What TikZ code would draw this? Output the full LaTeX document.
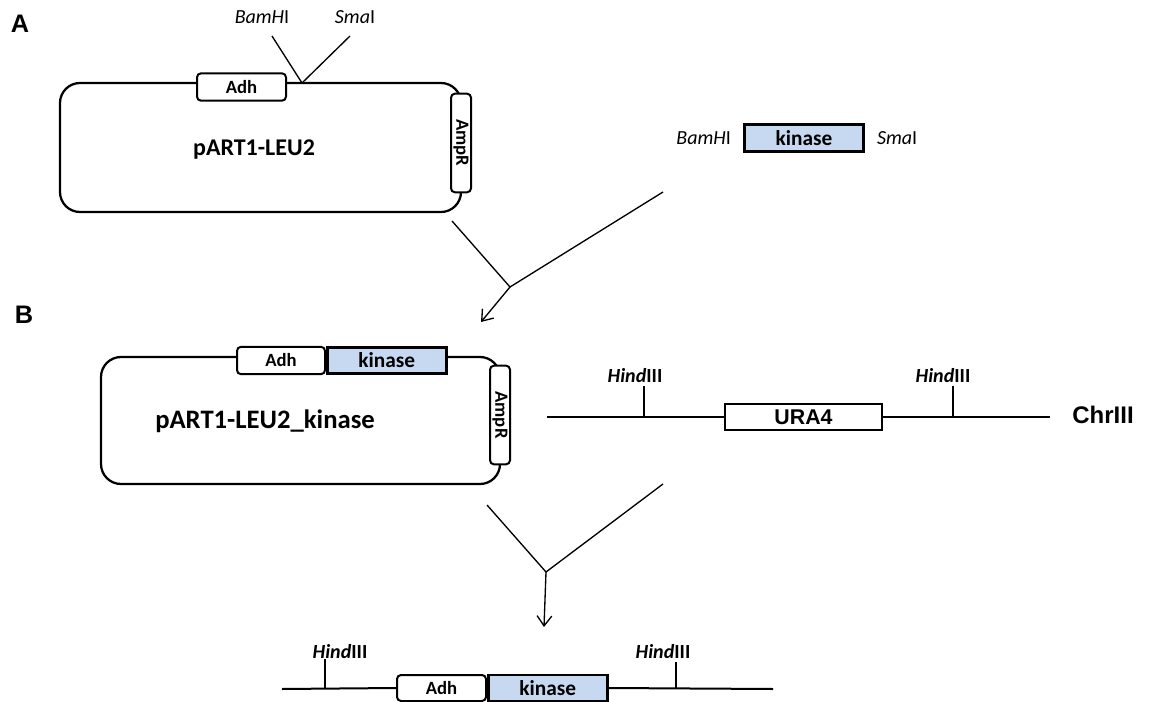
\documentclass[tikz,border=0pt]{standalone}
\usepackage{fontspec}
\setmainfont{Carlito}
\newfontfamily\arialfont{Liberation Sans}
\usetikzlibrary{arrows.meta,positioning}
\definecolor{kinblue}{HTML}{C6D9F1}

\begin{document}
\begin{tikzpicture}[x=0.75pt,y=-0.75pt]
\tikzset{
  plasmid/.style={draw,line width=1.7pt,rounded corners=15pt,inner sep=0pt},
  genebox/.style={draw,fill=white,line width=1.5pt,rounded corners=3pt,inner sep=0pt,minimum height=20.5pt,font=\fontsize{14}{14}\selectfont\bfseries},
  kinbox/.style={draw,fill=kinblue,line width=2.2pt,inner sep=0pt,minimum width=89pt,minimum height=20pt,font=\fontsize{16}{16}\selectfont\bfseries},
  amprbox/.style={genebox,rotate=-90,minimum width=74pt,minimum height=15pt},
  panel/.style={font=\arialfont\fontsize{19}{19}\selectfont\bfseries},
  plname/.style={font=\fontsize{#1}{#1}\selectfont\bfseries},
  site/.style={inner sep=1pt,font=\fontsize{15}{15}\selectfont},
  hsite/.style={inner sep=1pt,font=\fontsize{15}{15}\selectfont\bfseries},
  thin/.style={line width=1pt},
  chrline/.style={line width=1.5pt},
  arr/.style={thin,-{Straight Barb[length=7.5pt,width=11pt]}}
}
\useasboundingbox (0,0) rectangle (1149,702);

\node[panel] (lblA) at (20,24) {A};
\node[panel] (lblB) at (24,315) {B};

\node[plasmid,minimum width=300.75pt,minimum height=96.75pt] (plA) at (260.5,147.5) {};
\node[plname=18] (nameA) at (254,150) {pART1-LEU2};
\node[genebox,minimum width=66.75pt] (adhA) at (241.5,87) {Adh};
\node[amprbox] (ampA) at (461,143) {AmpR};
\coordinate (cutA) at (302,83);
\coordinate (bamT) at (272,36);
\coordinate (smaT) at (350,36);
\node[site] (bamA) at (262,17) {\textit{BamH}I};
\node[site] (smaA) at (355,17) {\textit{Sma}I};
\draw[thin] (bamT) -- (cutA);
\draw[thin] (smaT) -- (cutA);

\node[kinbox] (kinA) at (804,138) {kinase};
\node[site,left=8pt of kinA] (bamK) {\textit{BamH}I};
\node[site,right=8pt of kinA] (smaK) {\textit{Sma}I};

\coordinate (mA1) at (452,221);
\coordinate (mA2) at (663,192);
\coordinate (jA) at (510,287);
\coordinate (tipA) at (481,322);
\draw[thin] (mA1) -- (jA) -- (mA2);
\draw[arr] (jA) -- (tipA);

\node[plasmid,minimum width=299.25pt,minimum height=95.25pt] (plB) at (300.5,420.5) {};
\node[plname=20] (nameB) at (265,421) {pART1-LEU2\_kinase};
\node[genebox,minimum width=66pt] (adhB) at (281,360.5) {Adh};
\node[kinbox,right=0pt of adhB] (kinB) {kinase};
\node[amprbox] (ampB) at (500,415) {AmpR};

\coordinate (chrL) at (547,417);
\coordinate (chrR) at (1050,417);
\node[draw,line width=1.7pt,inner sep=0pt,minimum width=117.75pt,minimum height=19pt,font=\arialfont\fontsize{16}{16}\selectfont\bfseries] (ura) at (803.5,417) {URA4};
\draw[chrline] (chrL) -- (ura.west);
\draw[chrline] (ura.east) -- (chrR);
\coordinate (h1b) at (644,417);
\coordinate (h1t) at (644,386);
\coordinate (h2b) at (953,417);
\coordinate (h2t) at (953,386);
\draw[thin] (h1b) -- (h1t);
\draw[thin] (h2b) -- (h2t);
\node[hsite] (hin1) at (635,376) {\textit{Hind}III};
\node[hsite] (hin2) at (943,376) {\textit{Hind}III};
\node[font=\arialfont\fontsize{18}{18}\selectfont\bfseries] (chr) at (1103,415) {ChrIII};

\coordinate (mB1) at (487,505);
\coordinate (mB2) at (663,484);
\coordinate (jB) at (546,572);
\coordinate (tipB) at (544,627);
\draw[thin] (mB1) -- (jB) -- (mB2);
\draw[arr] (jB) -- (tipB);

\coordinate (botL) at (282,689);
\coordinate (botR) at (773,689);
\node[genebox,minimum width=66.75pt,minimum height=19.5pt] (adhC) at (441.5,688) {Adh};
\node[kinbox,right=0pt of adhC,minimum height=19.5pt] (kinC) {kinase};
\draw[chrline] (botL) -- (adhC.west);
\draw[chrline] (kinC.east) -- (botR);
\coordinate (h3b) at (325,689);
\coordinate (h3t) at (325,659);
\coordinate (h4b) at (676,689);
\coordinate (h4t) at (676,662);
\draw[thin] (h3b) -- (h3t);
\draw[thin] (h4b) -- (h4t);
\node[hsite] (hin3) at (340,652) {\textit{Hind}III};
\node[hsite] (hin4) at (663,652) {\textit{Hind}III};
\end{tikzpicture}
\end{document}
